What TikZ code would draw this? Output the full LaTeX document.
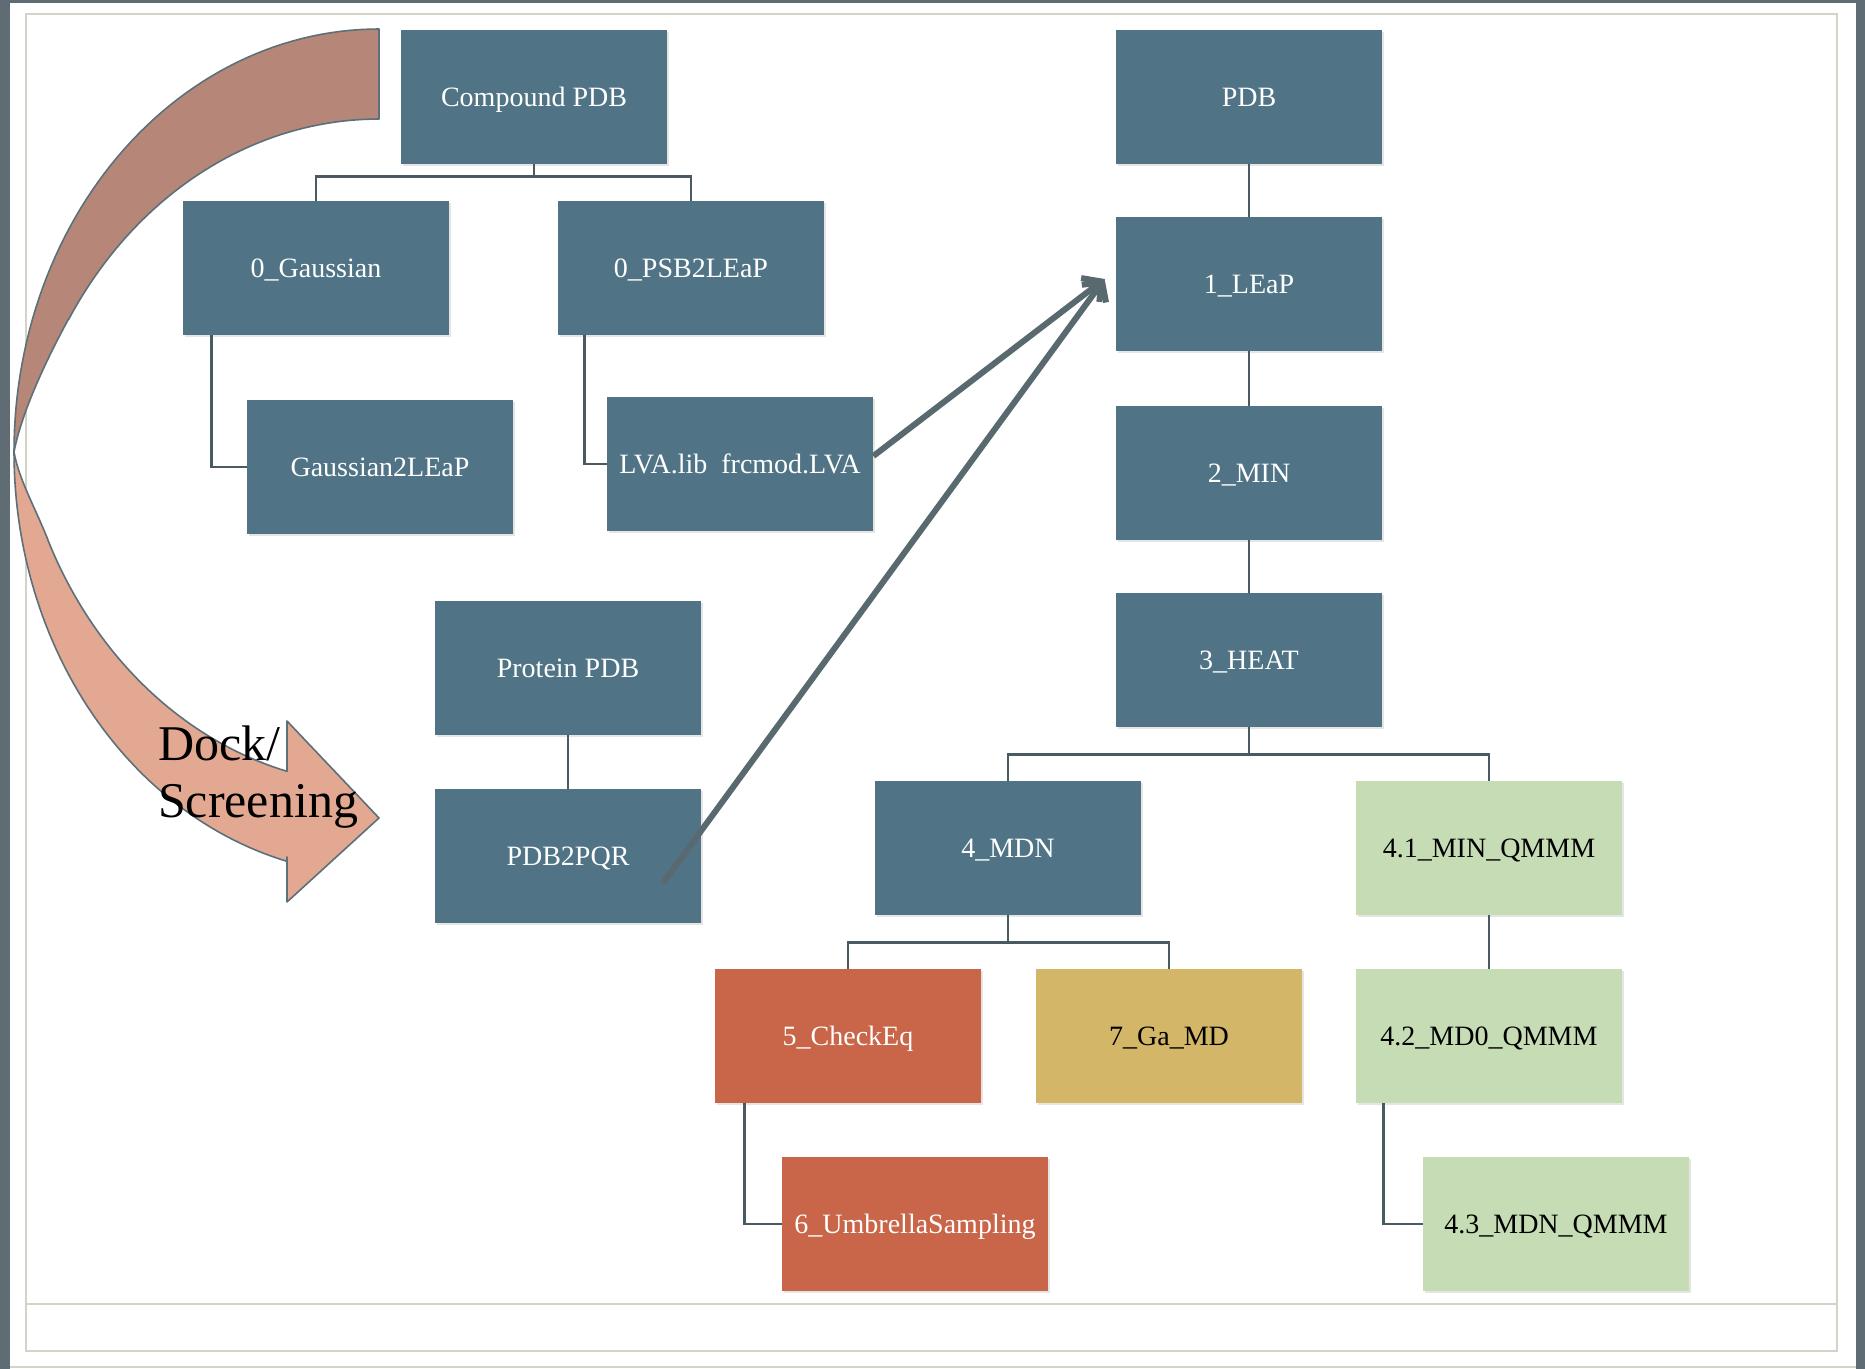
\documentclass[tikz,border=0pt]{standalone}
\usepackage{fontspec}
\setmainfont{Liberation Serif}
\usetikzlibrary{arrows.meta,positioning,calc,shadows}

\definecolor{slate}{RGB}{80,116,134}
\definecolor{brick}{RGB}{201,101,72}
\definecolor{sand}{RGB}{212,182,104}
\definecolor{sage}{RGB}{197,220,181}
\definecolor{wire}{RGB}{74,90,98}
\definecolor{pointer}{RGB}{88,106,112}
\definecolor{bandback}{RGB}{182,135,120}
\definecolor{bandfront}{RGB}{227,168,145}
\definecolor{bandline}{RGB}{91,112,121}
\definecolor{edge}{RGB}{95,108,116}
\definecolor{rule}{RGB}{210,212,200}

\begin{document}
\begin{tikzpicture}[
      x=0.5pt, y=-0.5pt,
      >=Latex,
      box/.style  ={rectangle, minimum width=133pt, minimum height=67pt,
                    inner sep=0pt, align=center,
                    text height=12.5pt, text depth=3pt,
                    font=\fontsize{14pt}{16pt}\selectfont,
                    drop shadow={opacity=0.2, shadow xshift=0.8pt, shadow yshift=-0.8pt}},
      dark/.style ={box, fill=slate, text=white},
      hot/.style  ={box, fill=brick, text=white},
      gold/.style ={box, fill=sand, text=black},
      qm/.style   ={box, fill=sage, text=black},
      wire/.style ={draw=wire, line width=1.2pt},
      jump/.style ={draw=pointer, line width=3pt,
                    -{Straight Barb[length=7pt, width=15pt]}},
      band/.style ={draw=bandline, line width=0.8pt, line join=round},
      label/.style={font=\fontsize{25pt}{29pt}\selectfont, anchor=base west}
    ]
    \useasboundingbox (0,0) rectangle (1865,1369);

    % slide frame
    \fill[edge] (0,0) rectangle (1865,1369);
    \fill[white] (10,3) rectangle (1856,1369);
    \draw[rule, line width=0.8pt] (10,1367) -- (1856,1367);
    \draw[rule, line width=1.2pt] (26,14) rectangle (1837,1351);
    \draw[rule, line width=1.2pt] (26,1304) -- (1837,1304);

    % curved arrow, back half
    \filldraw[band, fill=bandback]
      plot[domain=90:0, samples=60] ({379-365*cos(\x)}, {452-423*sin(\x)})
      .. controls (22,410) and (49,355) .. (68,320)
      -- plot[domain=31.7:90, samples=50] ({379-365*cos(\x)}, {542-423*sin(\x)})
      -- cycle;
    % curved arrow, front half
    \filldraw[band, fill=bandfront]
      (14,452) .. controls (19,480) and (35,507) .. (48,540)
      -- plot[domain=24.9:75.4, samples=50] ({379-365*cos(\x)}, {362+423*sin(\x)})
      -- (287,721) -- (379,818) -- (287,902) -- (287,857)
      -- plot[domain=75.4:0, samples=60] ({379-365*cos(\x)}, {452+423*sin(\x)})
      -- cycle;
    \node[label] (dock)   at (151,760) {Dock/};
    \node[label] (screen) at (151,817) {Screening};

    % ligand side
    \node[dark] (cpdb)  at (534,97)  {Compound PDB};
    \node[dark] (gauss) at (316,268) {0\_Gaussian};
    \node[dark] (psb)   at (691,268) {0\_PSB2LEaP};
    \node[dark] (g2l)   at (380,467) {Gaussian2LEaP};
    \node[dark] (lva)   at (740,464) {LVA.lib\ \ frcmod.LVA};

    % protein side
    \node[dark] (prot)  at (568,668) {Protein PDB};
    \node[dark] (pqr)   at (568,856) {PDB2PQR};

    % main chain
    \node[dark] (pdb)   at (1249,97)  {PDB};
    \node[dark] (leap)  at (1249,284) {1\_LEaP};
    \node[dark] (min)   at (1249,473) {2\_MIN};
    \node[dark] (heat)  at (1249,660) {3\_HEAT};
    \node[dark] (mdn)   at (1008,848) {4\_MDN};
    \node[qm]   (mmin)  at (1489,848) {4.1\_MIN\_QMMM};
    \node[hot]  (check) at (848,1036) {5\_CheckEq};
    \node[gold] (gamd)  at (1169,1036) {7\_Ga\_MD};
    \node[qm]   (md0)   at (1489,1036) {4.2\_MD0\_QMMM};
    \node[hot]  (umb)   at (915,1224) {6\_UmbrellaSampling};
    \node[qm]   (mdnq)  at (1556,1224) {4.3\_MDN\_QMMM};

    % tree lines
    \draw[wire] (cpdb.south) -- ++(0,12) -| (gauss.north);
    \draw[wire] (cpdb.south) -- ++(0,12) -| (psb.north);
    \draw[wire] ($(gauss.south west)+(29,0)$) |- (g2l.west);
    \draw[wire] ($(psb.south west)+(27,0)$) |- (lva.west);
    \draw[wire] (prot.south) -- (pqr.north);
    \draw[wire] (pdb.south) -- (leap.north);
    \draw[wire] (leap.south) -- (min.north);
    \draw[wire] (min.south) -- (heat.north);
    \draw[wire] (heat.south) -- ++(0,27) -| (mdn.north);
    \draw[wire] (heat.south) -- ++(0,27) -| (mmin.north);
    \draw[wire] (mdn.south) -- ++(0,27) -| (check.north);
    \draw[wire] (mdn.south) -- ++(0,27) -| (gamd.north);
    \draw[wire] ($(check.south west)+(30,0)$) |- (umb.west);
    \draw[wire] (mmin.south) -- (md0.north);
    \draw[wire] ($(md0.south west)+(28,0)$) |- (mdnq.west);

    % inputs into LEaP
    \coordinate (tip) at ($(leap.west)+(-11,-5)$);
    \draw[jump] ($(lva.east)+(0,-8)$) -- (tip);
    \draw[jump] ($(pqr.center)+(95,27)$) -- (tip);
\end{tikzpicture}
\end{document}
